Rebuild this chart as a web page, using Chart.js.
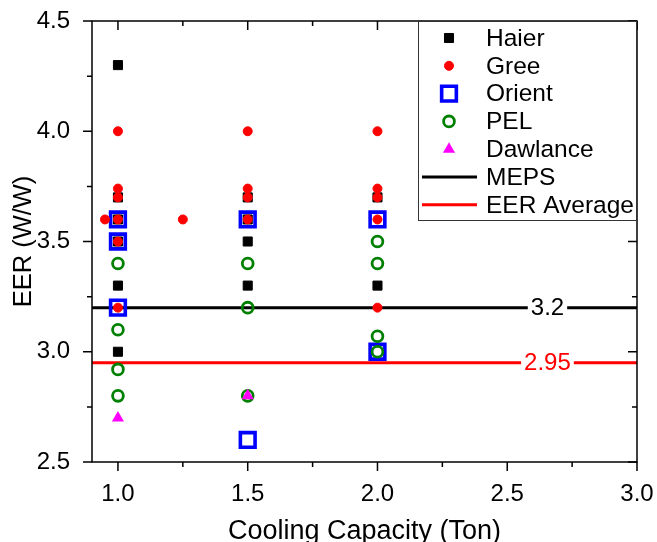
<!DOCTYPE html>
<html>
<head>
<meta charset="utf-8">
<script src="https://cdn.jsdelivr.net/npm/chart.js@4.4.1/dist/chart.umd.min.js"></script>
<style>
  html, body { margin: 0; padding: 0; background: #fff; }
  #wrap { width: 657px; height: 542px; }
</style>
</head>
<body>
<div id="wrap"><canvas id="eer"></canvas></div>
<script>
// measured EER values per brand (x = cooling capacity in ton)
const haierCap = [1.0, 1.0, 1.0, 1.0, 1.0, 1.0, 1.5, 1.5, 1.5, 1.5, 2.0, 2.0];
const haierEER = [4.3, 3.7, 3.6, 3.5, 3.3, 3.0, 3.7, 3.6, 3.5, 3.3, 3.7, 3.3];
const greeCap = [0.95, 1.0, 1.0, 1.0, 1.0, 1.0, 1.0, 1.25, 1.5, 1.5, 1.5, 1.5, 2.0, 2.0, 2.0, 2.0, 2.0];
const greeEER = [3.6, 4.0, 3.74, 3.7, 3.6, 3.5, 3.2, 3.6, 4.0, 3.74, 3.7, 3.6, 4.0, 3.74, 3.7, 3.6, 3.2];
const orientCap = [1.0, 1.0, 1.0, 1.5, 1.5, 2.0, 2.0];
const orientEER = [3.6, 3.5, 3.2, 3.6, 2.6, 3.6, 3.0];
const pelCap = [1.0, 1.0, 1.0, 1.0, 1.5, 1.5, 1.5, 2.0, 2.0, 2.0, 2.0];
const pelEER = [3.4, 3.1, 2.92, 2.8, 3.4, 3.2, 2.8, 3.5, 3.4, 3.07, 3.0];
const dawlanceCap = [1.0, 1.5];
const dawlanceEER = [2.7, 2.8];

const mepsValue = 3.2;
const eerAverage = 2.95;
const refLabels = ['3.2', '2.95'];

const xRange = [0.9, 3.0];
const yRange = [2.5, 4.5];
const xTicks = [1.0, 1.5, 2.0, 2.5, 3.0];
const yTicks = [2.5, 3.0, 3.5, 4.0, 4.5];
const xMinorTicks = [1.25, 1.75, 2.25, 2.75];
const yMinorTicks = [2.75, 3.25, 3.75, 4.25];

const FONT = 'Liberation Sans, Arial, Helvetica, sans-serif';

function pts(xs, ys) {
    return xs.map((x, i) => ({ x: x, y: ys[i] }));
}

const datasets = [
    { label: 'Dawlance', data: pts(dawlanceCap, dawlanceEER), order: 0,
      pointStyle: 'triangle', pointRadius: 7, borderWidth: 0,
      backgroundColor: '#ff00ff', borderColor: '#ff00ff' },
    { label: 'Gree', data: pts(greeCap, greeEER), order: 1,
      pointStyle: 'circle', pointRadius: 4.5, borderWidth: 1,
      backgroundColor: '#ff0000', borderColor: '#ff0000' },
    { label: 'PEL', data: pts(pelCap, pelEER), order: 2,
      pointStyle: 'circle', pointRadius: 5.4, borderWidth: 2.8,
      backgroundColor: 'rgba(0,0,0,0)', borderColor: '#008000' },
    { label: 'Haier', data: pts(haierCap, haierEER), order: 3,
      pointStyle: 'rect', pointRadius: 6.4, borderWidth: 1,
      backgroundColor: '#000000', borderColor: '#000000' },
    { label: 'Orient', data: pts(orientCap, orientEER), order: 4,
      pointStyle: 'rect', pointRadius: 10.4, borderWidth: 3.6,
      backgroundColor: 'rgba(0,0,0,0)', borderColor: '#0000ff' },
    { label: 'MEPS', data: pts(xRange, [mepsValue, mepsValue]), order: 10,
      showLine: true, pointRadius: 0, borderWidth: 3, borderColor: '#000000' },
    { label: 'EER Average', data: pts(xRange, [eerAverage, eerAverage]), order: 11,
      showLine: true, pointRadius: 0, borderWidth: 3, borderColor: '#ff0000' }
];
datasets.forEach(d => { d.pointHoverRadius = d.pointRadius; });

const legendOrder = ['Haier', 'Gree', 'Orient', 'PEL', 'Dawlance', 'MEPS', 'EER Average'];

// tick marks: outside on left/bottom, mirrored inside on top/right
const frameTicks = {
    id: 'frameTicks',
    afterDraw(chart) {
        const ctx = chart.ctx;
        const a = chart.chartArea;
        const xs = chart.scales.x, ys = chart.scales.y;
        ctx.save();
        ctx.strokeStyle = '#000';
        ctx.lineWidth = 1.5;
        ctx.strokeRect(a.left, a.top, a.right - a.left, a.bottom - a.top);
        const tick = (vals, len) => {
            vals.forEach(v => {
                const px = xs.getPixelForValue(v);
                ctx.beginPath();
                ctx.moveTo(px, a.bottom); ctx.lineTo(px, a.bottom + len);
                ctx.moveTo(px, a.top); ctx.lineTo(px, a.top + len);
                ctx.stroke();
            });
        };
        tick(xTicks, 9);
        tick(xMinorTicks, 5);
        const ytick = (vals, len) => {
            vals.forEach(v => {
                const py = ys.getPixelForValue(v);
                ctx.beginPath();
                ctx.moveTo(a.left, py); ctx.lineTo(a.left - len, py);
                ctx.moveTo(a.right, py); ctx.lineTo(a.right - len, py);
                ctx.stroke();
            });
        };
        ytick(yTicks, 9);
        ytick(yMinorTicks, 5);
        ctx.restore();
    }
};

// value labels sitting on the two reference lines
const refLineLabels = {
    id: 'refLineLabels',
    afterDatasetsDraw(chart) {
        const ctx = chart.ctx;
        const xs = chart.scales.x, ys = chart.scales.y;
        const cx = xs.getPixelForValue(2.655);
        const items = [[refLabels[0], mepsValue, '#000000'], [refLabels[1], eerAverage, '#ff0000']];
        ctx.save();
        ctx.font = '24px ' + FONT;
        ctx.textAlign = 'center';
        ctx.textBaseline = 'middle';
        items.forEach(([txt, v, col]) => {
            const py = ys.getPixelForValue(v);
            const w = ctx.measureText(txt).width + 6;
            ctx.fillStyle = '#fff';
            ctx.fillRect(cx - w / 2, py - 4, w, 8);
            ctx.fillStyle = col;
            ctx.fillText(txt, cx, py + 1);
        });
        ctx.restore();
    }
};

// boxed legend in the upper right corner of the plot
const boxLegend = {
    id: 'boxLegend',
    afterDraw(chart) {
        const ctx = chart.ctx;
        const a = chart.chartArea;
        const left = 418, right = a.right, top = a.top, bottom = 221;
        ctx.save();
        ctx.fillStyle = '#fff';
        ctx.fillRect(left, top, right - left, bottom - top);
        ctx.strokeStyle = '#333';
        ctx.lineWidth = 1;
        ctx.strokeRect(left + 0.5, top + 0.5, right - left - 1, bottom - top - 1);
        ctx.font = '24.5px ' + FONT;
        ctx.textBaseline = 'middle';
        ctx.textAlign = 'left';
        legendOrder.forEach((name, i) => {
            const ds = chart.data.datasets.find(d => d.label === name);
            const y = top + 17 + i * 27.8;
            if (ds.showLine) {
                ctx.strokeStyle = ds.borderColor;
                ctx.lineWidth = 3;
                ctx.beginPath();
                ctx.moveTo(422, y); ctx.lineTo(477, y);
                ctx.stroke();
            } else {
                ctx.fillStyle = ds.backgroundColor;
                ctx.strokeStyle = ds.borderColor;
                ctx.lineWidth = ds.borderWidth;
                Chart.helpers.drawPoint(ctx, {
                    pointStyle: ds.pointStyle, radius: ds.pointRadius,
                    rotation: 0, borderWidth: ds.borderWidth
                }, 449, y);
            }
            ctx.fillStyle = '#000';
            ctx.fillText(name, 486, y + 1);
        });
        ctx.restore();
    }
};

new Chart(document.getElementById('eer'), {
    type: 'scatter',
    data: { datasets: datasets },
    options: {
        responsive: true,
        maintainAspectRatio: false,
        animation: false,
        layout: { padding: { top: 21, right: 20, left: 0, bottom: 0 } },
        plugins: { legend: { display: false }, tooltip: { enabled: false } },
        scales: {
            x: {
                type: 'linear',
                min: xRange[0],
                max: xRange[1],
                afterBuildTicks: s => { s.ticks = xTicks.map(v => ({ value: v })); },
                afterFit: s => { s.height = 80; s.paddingLeft = 0; s.paddingRight = 0; },
                grid: { display: false },
                border: { display: false },
                ticks: {
                    color: '#000', padding: 10,
                    font: { family: FONT, size: 24 },
                    callback: v => Number(v).toFixed(1)
                },
                title: {
                    display: true, text: 'Cooling Capacity (Ton)', color: '#000',
                    font: { family: FONT, size: 27, lineHeight: 0.8 }, padding: { top: 0, bottom: 0 }
                }
            },
            y: {
                type: 'linear',
                min: yRange[0],
                max: yRange[1],
                afterBuildTicks: s => { s.ticks = yTicks.map(v => ({ value: v })); },
                afterFit: s => { s.width = 92; s.paddingTop = 0; s.paddingBottom = 0; },
                grid: { display: false },
                border: { display: false },
                ticks: {
                    color: '#000', padding: 14,
                    font: { family: FONT, size: 24 },
                    callback: v => Number(v).toFixed(1)
                },
                title: {
                    display: true, text: 'EER (W/W)', color: '#000',
                    font: { family: FONT, size: 25.5 }, padding: { top: 9, bottom: 0 }
                }
            }
        }
    },
    plugins: [refLineLabels, frameTicks, boxLegend]
});
</script>
</body>
</html>
